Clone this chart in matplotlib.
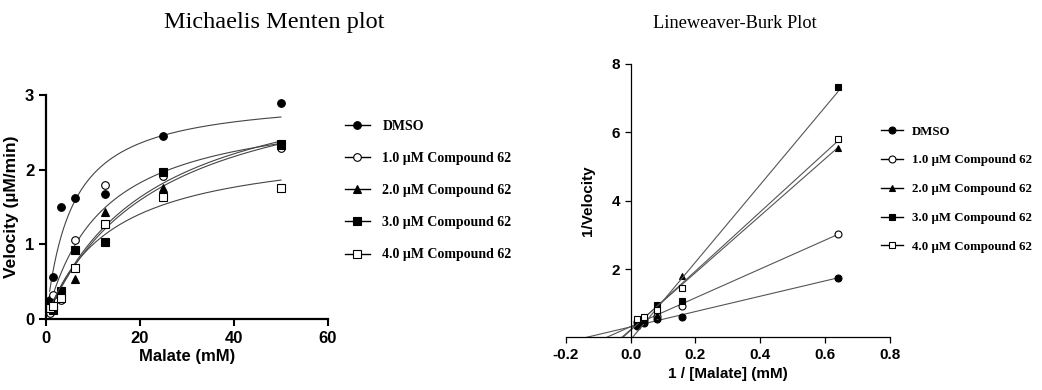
import numpy as np
import matplotlib
matplotlib.use("Agg")
import matplotlib.pyplot as plt

# Michaelis-Menten data (velocity, uM/min)
malate = [0.78, 1.56, 3.125, 6.25, 12.5, 25, 50]
v_dmso = [0.25, 0.56, 1.50, 1.62, 1.68, 2.45, 2.89]
v_c1 = [0.08, 0.32, 0.25, 1.06, 1.79, 1.91, 2.29]
v_c2 = [0.20, 0.18, 0.33, 0.54, 1.43, 1.75, 2.33]
v_c3 = [0.22, 0.12, 0.37, 0.93, 1.03, 1.97, 2.34]
v_c4 = [0.15, 0.17, 0.28, 0.68, 1.28, 1.63, 1.76]

# Lineweaver-Burk data
inv_malate = [0.02, 0.04, 0.08, 0.16, 0.64]
lb_dmso = [0.33, 0.41, 0.55, 0.60, 1.75]
lb_c1 = [0.44, 0.52, 0.62, 0.92, 3.03]
lb_c2 = [0.45, 0.55, 0.64, 1.79, 5.53]
lb_c3 = [0.45, 0.52, 0.96, 1.06, 7.33]
lb_c4 = [0.53, 0.60, 0.80, 1.45, 5.79]

labels = ["DMSO", "1.0 \u00b5M Compound 62", "2.0 \u00b5M Compound 62",
          "3.0 \u00b5M Compound 62", "4.0 \u00b5M Compound 62"]
markers = ["o", "o", "^", "s", "s"]
faces = ["black", "white", "black", "black", "white"]

serif = ["Liberation Serif", "DejaVu Serif"]
sans = "Liberation Sans"


def fit_mm(s, v):
    # grid search on Km, Vmax solved by least squares for each Km
    s = np.asarray(s)
    v = np.asarray(v)
    best = None
    for km in np.linspace(0.1, 60, 3000):
        f = s / (km + s)
        vmax = (v * f).sum() / (f * f).sum()
        err = ((v - vmax * f) ** 2).sum()
        if best is None or err < best[0]:
            best = (err, vmax, km)
    return best[1], best[2]


fig = plt.figure(figsize=(10.42, 3.9), dpi=100)

# ---- left: Michaelis Menten
ax1 = fig.add_axes([0.0441, 0.182, 0.2706, 0.574])
mm_sets = [v_dmso, v_c1, v_c2, v_c3, v_c4]
xs = np.linspace(min(malate), 50, 300)
handles = []
for v, m, fc, lab in zip(mm_sets, markers, faces, labels):
    vmax, km = fit_mm(malate, v)
    ax1.plot(xs, vmax * xs / (km + xs), color="#444444", lw=0.8)
    ax1.plot(malate, v, ls="none", marker=m, ms=5.5, mfc=fc, mec="black",
             mew=0.8)
    h, = ax1.plot([], [], color="black", lw=1.0, marker=m, ms=5.5, mfc=fc,
                  mec="black", mew=0.8, label=lab)
    handles.append(h)

ax1.set_xlim(0, 60)
ax1.set_ylim(0, 3)
ax1.set_xticks([0, 20, 40, 60])
ax1.set_yticks([0, 1, 2, 3])
ax1.spines["top"].set_visible(False)
ax1.spines["right"].set_visible(False)
for sp in ["left", "bottom"]:
    ax1.spines[sp].set_linewidth(1.6)
ax1.tick_params(width=1.5, length=5, labelsize=12)
for t in ax1.get_xticklabels() + ax1.get_yticklabels():
    t.set_fontfamily(sans)
    t.set_fontweight("bold")
ax1.set_xlabel("Malate (mM)", fontsize=12, fontweight="bold", family=sans,
               labelpad=2)
ax1.set_ylabel("Velocity (\u00b5M/min)", fontsize=12.5, fontweight="bold",
               family=sans)
fig.text(0.263, 0.928, "Michaelis Menten plot", fontsize=17.5, family=serif,
         ha="center", va="baseline")

fig.legend(handles=handles, loc="upper left", bbox_to_anchor=(0.319, 0.725),
           frameon=False, prop={"family": serif, "weight": "bold", "size": 10},
           handlelength=1.8, labelspacing=1.38, handletextpad=0.9)

# ---- right: Lineweaver-Burk
ax2 = fig.add_axes([0.543, 0.135, 0.311, 0.701])
lb_sets = [lb_dmso, lb_c1, lb_c2, lb_c3, lb_c4]
handles2 = []
for y, m, fc, lab in zip(lb_sets, markers, faces, labels):
    slope, icpt = np.polyfit(inv_malate, y, 1)
    x0 = -icpt / slope
    xl = np.array([x0, max(inv_malate)])
    ax2.plot(xl, slope * xl + icpt, color="#555555", lw=0.8)
    ax2.plot(inv_malate, y, ls="none", marker=m, ms=5, mfc=fc, mec="black",
             mew=0.8)
    h, = ax2.plot([], [], color="black", lw=1.0, marker=m, ms=5, mfc=fc,
                  mec="black", mew=0.8, label=lab)
    handles2.append(h)

ax2.set_xlim(-0.2, 0.8)
ax2.set_ylim(0, 8)
ax2.set_xticks([-0.2, 0.0, 0.2, 0.4, 0.6, 0.8])
ax2.set_xticklabels(["-0.2", "0.0", "0.2", "0.4", "0.6", "0.8"])
ax2.set_yticks([2, 4, 6, 8])
ax2.spines["top"].set_visible(False)
ax2.spines["right"].set_visible(False)
ax2.spines["left"].set_position(("data", 0))
ax2.spines["bottom"].set_position(("data", 0))
for sp in ["left", "bottom"]:
    ax2.spines[sp].set_linewidth(0.9)
ax2.tick_params(width=0.9, length=4, labelsize=11)
for t in ax2.get_xticklabels() + ax2.get_yticklabels():
    t.set_fontfamily(sans)
    t.set_fontweight("bold")
ax2.set_xlabel("1 / [Malate] (mM)", fontsize=11, fontweight="bold", family=sans)
ax2.set_ylabel("1/Velocity", fontsize=11, fontweight="bold", family=sans)
ax2.yaxis.set_label_coords(0.09, 0.5)
fig.text(0.705, 0.928, "Lineweaver-Burk Plot", fontsize=13.2, family=serif,
         ha="center", va="baseline")

fig.legend(handles=handles2, loc="upper left", bbox_to_anchor=(0.834, 0.708),
           frameon=False, prop={"family": serif, "weight": "bold", "size": 9.3},
           handlelength=1.7, labelspacing=1.3, handletextpad=0.7)

fig.savefig("out.png", dpi=100)
